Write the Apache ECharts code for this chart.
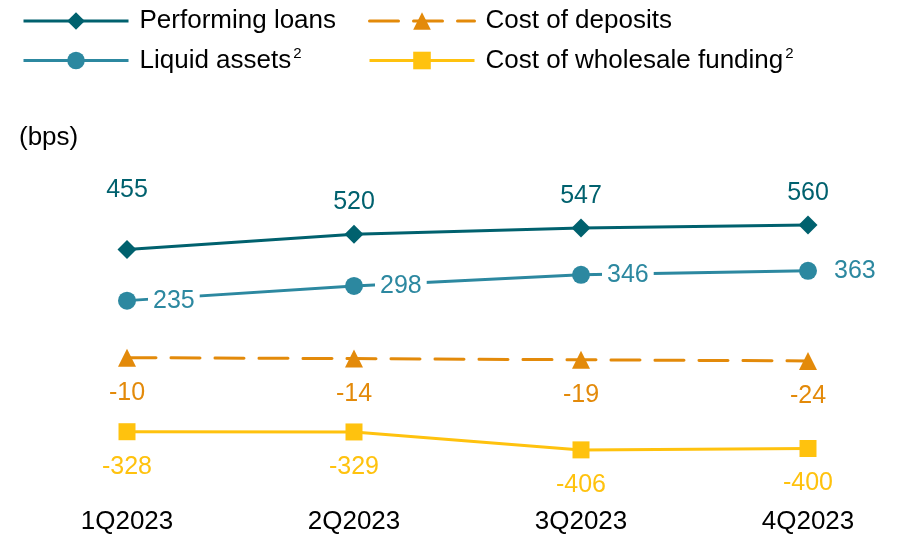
<!DOCTYPE html>
<html><head><meta charset="utf-8">
<script src="https://cdn.jsdelivr.net/npm/echarts@6/dist/echarts.min.js"></script>
<style>html,body{margin:0;padding:0;background:#fff}#c{width:900px;height:535px}</style>
</head><body><div id="c"></div>
<script>
const categories = ['1Q2023', '2Q2023', '3Q2023', '4Q2023'];
const performingLoans = [455, 520, 547, 560];
const liquidAssets = [235, 298, 346, 363];
const costOfDeposits = [-10, -14, -19, -24];
const costOfWholesale = [-328, -329, -406, -400];

const FONT = 'Arial, "Liberation Sans", sans-serif';
const C_LOANS = '#00616E', C_LIQ = '#2C88A0', C_DEP = '#E38A0A', C_WHS = '#FFC20E';

const chart = echarts.init(document.getElementById('c'));
const supRich = { s: { fontSize: 15, verticalAlign: 'top', padding: [0, 0, 14, 2], fontFamily: FONT, color: '#000' } };
function legendFmt(name) {
  if (name === 'Liquid assets' || name === 'Cost of wholesale funding') return name + '{s|2}';
  return name;
}
const legendBase = {
  orient: 'vertical', top: 8, padding: 0, itemWidth: 105, itemHeight: 22, itemGap: 12,
  formatter: legendFmt,
  lineStyle: { width: 3 },
  textStyle: { fontSize: 26, fontFamily: FONT, color: '#000', padding: [0, 0, 0, 6], rich: supRich }
};

chart.setOption({
  animation: false,
  textStyle: { fontFamily: FONT },
  title: { text: '(bps)', left: 14, top: 120, textStyle: { fontSize: 26, fontWeight: 'normal', color: '#000', fontFamily: FONT } },
  legend: [
    Object.assign({}, legendBase, { left: 22, data: ['Performing loans', 'Liquid assets'] }),
    Object.assign({}, legendBase, { left: 368, data: ['Cost of deposits', 'Cost of wholesale funding'] })
  ],
  grid: { left: 127, right: 92, top: 170, bottom: 29 },
  xAxis: {
    type: 'category', data: categories, boundaryGap: false,
    axisLine: { show: false }, axisTick: { show: false },
    axisLabel: { fontSize: 26, color: '#000', margin: 3, fontFamily: FONT }
  },
  yAxis: { type: 'value', min: -647, max: 796, show: false, splitLine: { show: false } },
  series: [
    {
      name: 'Performing loans', type: 'line', data: performingLoans.map((v, i) => ({
        value: v, label: { distance: i === 0 ? 37 : 10 }
      })),
      symbol: 'diamond', symbolSize: 19, color: C_LOANS,
      lineStyle: { width: 3, color: C_LOANS },
      label: { show: true, position: 'top', fontSize: 25, color: C_LOANS, fontFamily: FONT }
    },
    {
      name: 'Liquid assets', type: 'line', data: liquidAssets,
      symbol: 'circle', symbolSize: 18, color: C_LIQ,
      lineStyle: { width: 3, color: C_LIQ },
      label: { show: true, position: 'right', distance: 12, fontSize: 25, color: C_LIQ, fontFamily: FONT,
        backgroundColor: '#fff', padding: [0, 5, 0, 5] }
    },
    {
      name: 'Cost of deposits', type: 'line', data: costOfDeposits,
      symbol: 'triangle', symbolSize: 18, color: C_DEP,
      lineStyle: { width: 3, color: C_DEP, type: [29, 15], cap: 'round' },
      label: { show: true, position: 'bottom', distance: 14, fontSize: 25, color: C_DEP, fontFamily: FONT }
    },
    {
      name: 'Cost of wholesale funding', type: 'line', data: costOfWholesale,
      symbol: 'rect', symbolSize: 17, color: C_WHS,
      lineStyle: { width: 3, color: C_WHS },
      label: { show: true, position: 'bottom', distance: 14, fontSize: 25, color: C_WHS, fontFamily: FONT }
    }
  ]
});
</script></body></html>
